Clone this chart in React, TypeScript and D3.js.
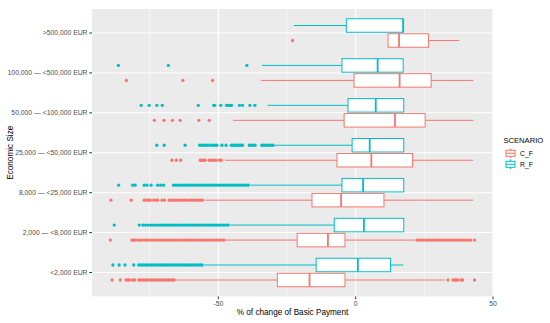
import React from "react";
import * as d3 from "d3";

// Categories (bottom to top)
const categories = [
  "<2,000 EUR",
  "2,000 — <8,000 EUR",
  "8,000 — <25,000 EUR",
  "25,000 — <50,000 EUR",
  "50,000 — <100,000 EUR",
  "100,000 — <500,000 EUR",
  ">500,000 EUR",
];
const scenarios = ["C_F", "R_F"];
const scenarioColors = ["#F8766D", "#00BFC4"];

const xMajorTicks = [-50, 0, 50];
const xMinorTicks = [-75, -25, 25];
const xTickLabels = ["-50", "0", "50"];

// C_F box statistics
const cfLower = [-65.7, -47.5, -55.0, -47.6, -44.6, -34.5, 11.8];
const cfQ1 = [-28.5, -21.3, -15.9, -6.8, -4.2, -0.6, 11.8];
const cfMedian = [-16.8, -10.1, -5.3, 5.7, 14.3, 16.0, 15.8];
const cfQ3 = [-3.9, -3.9, 10.3, 20.7, 25.3, 27.5, 26.5];
const cfUpper = [32.4, 21.5, 42.8, 42.8, 42.8, 42.8, 37.7];

// R_F box statistics
const rfLower = [-55.2, -45.7, -38.4, -29.6, -32.1, -34.1, -22.5];
const rfQ1 = [-14.4, -7.8, -5.0, -1.3, -2.8, -5.0, -3.4];
const rfMedian = [0.8, 3.0, 2.7, 5.1, 7.3, 8.0, 17.3];
const rfQ3 = [12.7, 17.5, 17.5, 17.5, 17.5, 17.3, 17.3];
const rfUpper = [17.3, 17.5, 17.5, 17.5, 17.5, 17.3, 17.3];

// C_F outliers
const cfOut0 = [-88.7, -85.7, -83.6, -82.9, -82.3, -81.2, -80.5, -79.0, -78.3, -77.5, -76.8, -76.0, -75.2, -74.5, -73.7, -72.9, -72.2, -71.4, -70.6, -69.9, -69.1, -68.3, -67.6, -66.8, -66.1, 33.6, 35.4, 36.0, 36.6, 37.2, 38.4, 39.0, 43.3];
const cfOut1 = [-89.3, -81.5, -80.9, -80.3, -79.3, -78.5, -77.6, -76.8, -75.9, -75.1, -74.2, -73.4, -72.5, -71.7, -70.8, -70.0, -69.1, -68.3, -67.4, -66.6, -65.7, -64.9, -64.0, -63.2, -62.3, -61.5, -60.6, -59.8, -58.9, -58.1, -57.2, -56.4, -55.5, -54.7, -53.8, -53.0, -52.1, -51.3, -50.4, -49.6, -48.7, -48.0, 22.3, 23.0, 23.7, 24.6, 25.4, 26.2, 27.0, 27.9, 28.7, 29.5, 30.3, 31.2, 32.0, 32.8, 33.6, 34.5, 35.3, 36.1, 36.9, 37.8, 38.6, 39.4, 40.2, 41.1, 41.9, 43.3];
const cfOut2 = [-89.1, -81.7, -77.0, -76.2, -75.5, -74.8, -73.6, -72.8, -72.1, -70.5, -69.6, -67.9, -67.1, -66.3, -65.5, -64.7, -63.9, -63.1, -62.3, -61.5, -60.5, -59.7, -58.9, -58.1, -57.3, -56.5, -55.8];
const cfOut3 = [-66.9, -65.3, -63.7, -56.6, -56.0, -55.4, -54.8, -53.3, -52.5, -51.7, -50.9, -49.6, -48.9];
const cfOut4 = [-73.3, -69.8, -66.7, -63.9, -57.1, -53.3];
const cfOut5 = [-83.5, -62.9, -52.1];
const cfOut6 = [-23.0];

// R_F outliers
const rfOut0 = [-88.4, -86.1, -84.0, -80.8, -79.0, -78.2, -77.4, -76.6, -75.8, -75.0, -74.2, -73.4, -72.6, -71.8, -71.0, -70.2, -69.4, -68.6, -67.8, -67.0, -66.2, -65.4, -64.6, -63.8, -63.0, -62.2, -61.4, -60.6, -59.8, -59.0, -58.2, -57.4, -56.6, -55.9];
const rfOut1 = [-87.9, -78.8, -77.5, -76.5, -75.5, -74.5, -73.8, -72.9, -72.0, -71.2, -70.4, -69.6, -68.8, -68.0, -67.2, -66.4, -65.6, -64.8, -64.0, -63.2, -62.4, -61.6, -60.8, -60.0, -59.2, -58.4, -57.6, -56.8, -56.0, -55.2, -54.4, -53.6, -52.8, -52.0, -51.2, -50.4, -49.6, -48.8, -48.0, -47.2, -46.4];
const rfOut2 = [-86.3, -81.2, -80.3, -77.0, -76.0, -74.5, -72.1, -71.0, -69.9, -66.3, -65.5, -64.7, -63.9, -63.1, -62.3, -61.5, -60.7, -59.9, -59.1, -58.3, -57.5, -56.7, -55.9, -55.1, -54.3, -53.5, -52.7, -51.9, -51.1, -50.3, -49.5, -48.7, -47.9, -47.1, -46.3, -45.5, -44.7, -43.9, -43.1, -42.3, -41.5, -40.7, -39.9, -39.1];
const rfOut3 = [-72.4, -69.7, -62.1, -56.8, -56.0, -55.2, -54.5, -53.8, -52.8, -52.0, -51.2, -50.5, -48.7, -47.2, -45.3, -44.7, -44.1, -43.6, -42.9, -42.3, -41.7, -41.2, -38.7, -38.0, -37.3, -36.6, -34.2, -33.5, -32.8, -32.1, -31.4, -30.7, -30.1];
const rfOut4 = [-78.1, -75.2, -72.4, -70.4, -57.3, -51.7, -51.3, -49.1, -47.0, -46.4, -45.8, -45.2, -42.3, -41.2, -38.5, -36.7];
const rfOut5 = [-86.4, -68.2, -39.6];
const rfOut6: number[] = [];

const cfOutliers = [cfOut0, cfOut1, cfOut2, cfOut3, cfOut4, cfOut5, cfOut6];
const rfOutliers = [rfOut0, rfOut1, rfOut2, rfOut3, rfOut4, rfOut5, rfOut6];

const W = 550;
const H = 323;
const panel = { left: 92, right: 493, top: 9, bottom: 296.5 };
const font = "'Liberation Sans', Arial, sans-serif";

export default function App() {
  const x = d3.scaleLinear().domain([-96, 50]).range([panel.left, panel.right]);
  const y = d3
    .scalePoint<string>()
    .domain(categories)
    .range([panel.bottom - 24, panel.top + 24]);

  const series = [
    { name: scenarios[0], color: scenarioColors[0], offset: 7.5, lower: cfLower, q1: cfQ1, med: cfMedian, q3: cfQ3, upper: cfUpper, out: cfOutliers },
    { name: scenarios[1], color: scenarioColors[1], offset: -7.5, lower: rfLower, q1: rfQ1, med: rfMedian, q3: rfQ3, upper: rfUpper, out: rfOutliers },
  ];
  const boxH = 13.5;

  return (
    <div>
      <style>{`body{margin:0}`}</style>
      <svg width={W} height={H} style={{ display: "block", background: "#fff" }}>
        <rect x={panel.left} y={panel.top} width={panel.right - panel.left} height={panel.bottom - panel.top} fill="#EBEBEB" />
        {xMinorTicks.map((t) => (
          <line key={"mn" + t} x1={x(t)} x2={x(t)} y1={panel.top} y2={panel.bottom} stroke="#fff" strokeWidth={0.55} />
        ))}
        {xMajorTicks.map((t) => (
          <line key={"mj" + t} x1={x(t)} x2={x(t)} y1={panel.top} y2={panel.bottom} stroke="#fff" strokeWidth={1.07} />
        ))}
        {categories.map((c) => (
          <line key={"gy" + c} x1={panel.left} x2={panel.right} y1={y(c)} y2={y(c)} stroke="#fff" strokeWidth={1.07} />
        ))}

        {series.map((s) =>
          categories.map((c, i) => {
            const cy = (y(c) as number) + s.offset;
            return (
              <g key={s.name + c}>
                <line x1={x(s.lower[i])} x2={x(s.q1[i])} y1={cy} y2={cy} stroke={s.color} strokeWidth={1} />
                <line x1={x(s.q3[i])} x2={x(s.upper[i])} y1={cy} y2={cy} stroke={s.color} strokeWidth={1} />
                <rect
                  x={x(s.q1[i])}
                  y={cy - boxH / 2}
                  width={x(s.q3[i]) - x(s.q1[i])}
                  height={boxH}
                  fill="#fff"
                  stroke={s.color}
                  strokeWidth={1}
                />
                <line x1={x(s.med[i])} x2={x(s.med[i])} y1={cy - boxH / 2} y2={cy + boxH / 2} stroke={s.color} strokeWidth={1.8} />
                {s.out[i].map((v, j) => (
                  <circle key={j} cx={x(v)} cy={cy} r={1.65} fill={s.color} />
                ))}
              </g>
            );
          })
        )}

        {/* x axis */}
        {xMajorTicks.map((t, i) => (
          <g key={"xt" + t}>
            <line x1={x(t)} x2={x(t)} y1={panel.bottom} y2={panel.bottom + 2.7} stroke="#333" strokeWidth={1} />
            <text x={x(t)} y={panel.bottom + 9.5} textAnchor="middle" fontSize={6.8} fill="#4D4D4D" fontFamily={font}>
              {xTickLabels[i]}
            </text>
          </g>
        ))}
        {/* y axis */}
        {categories.map((c) => (
          <g key={"yt" + c}>
            <line x1={panel.left - 2.7} x2={panel.left} y1={y(c)} y2={y(c)} stroke="#333" strokeWidth={1} />
            <text x={panel.left - 4.5} y={(y(c) as number) + 2.4} textAnchor="end" fontSize={6.8} fill="#4D4D4D" fontFamily={font}>
              {c}
            </text>
          </g>
        ))}
        <text x={(panel.left + panel.right) / 2} y={314.5} textAnchor="middle" fontSize={8.2} fill="#000" fontFamily={font}>
          % of change of Basic Payment
        </text>
        <text
          transform={`translate(12.5, ${(panel.top + panel.bottom) / 2}) rotate(-90)`}
          textAnchor="middle"
          fontSize={8.2}
          fill="#000"
          fontFamily={font}
        >
          Economic Size
        </text>

        {/* legend */}
        <text x={503.5} y={142.8} fontSize={7.6} fill="#000" fontFamily={font}>
          SCENARIO
        </text>
        {scenarios.map((s, i) => {
          const cy = 153.3 + i * 11;
          const col = scenarioColors[i];
          return (
            <g key={"lg" + s}>
              <line x1={510.5} x2={510.5} y1={cy - 4.8} y2={cy + 4.8} stroke={col} strokeWidth={1} />
              <rect x={506} y={cy - 3} width={9} height={6} fill="#fff" stroke={col} strokeWidth={1} />
              <line x1={506} x2={515} y1={cy} y2={cy} stroke={col} strokeWidth={1} />
              <text x={520} y={cy + 2.4} fontSize={6.8} fill="#000" fontFamily={font}>
                {s}
              </text>
            </g>
          );
        })}
      </svg>
    </div>
  );
}
